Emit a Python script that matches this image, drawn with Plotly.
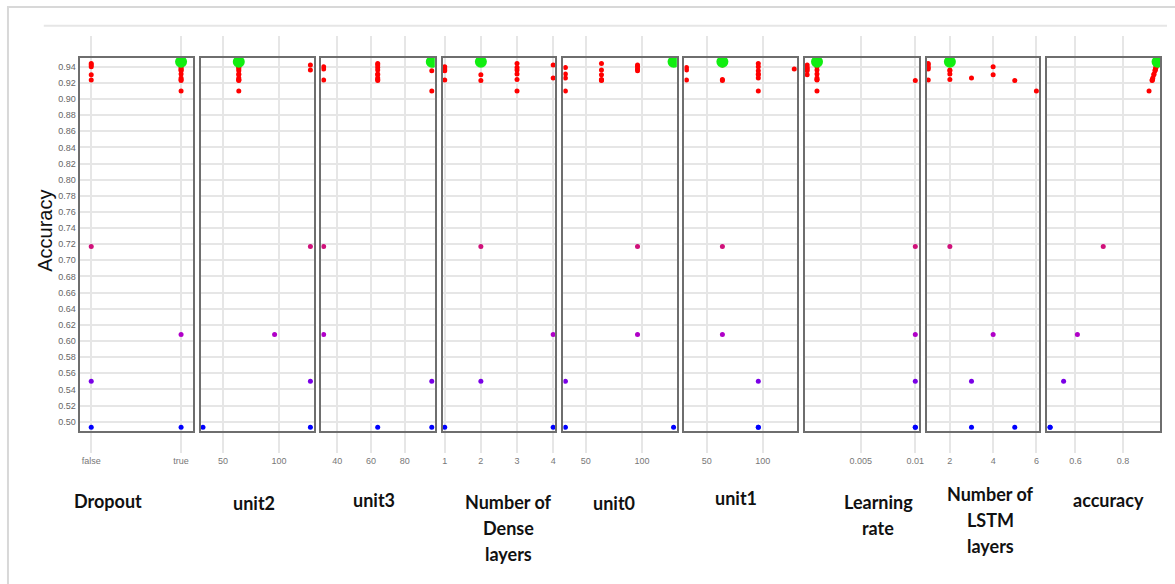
import plotly.graph_objects as go

W, H = 1175, 584

# ---------------- data (one entry per tuning trial) ----------------
accuracy = [0.946, 0.944, 0.942, 0.940, 0.939, 0.937, 0.936, 0.935, 0.931, 0.930,
            0.926, 0.924, 0.9235, 0.923, 0.910, 0.717, 0.608, 0.550, 0.493, 0.493]
dropout = ["true", "false", "false", "false", "true", "true", "true", "true", "true", "false",
           "true", "true", "false", "true", "true", "false", "true", "false", "false", "true"]
unit2 = [64, 64, 128, 64, 64, 64, 128, 64, 64, 64, 64, 64, 64, 64, 64, 128, 96, 128, 32, 128]
unit3 = [96, 64, 64, 32, 64, 32, 64, 96, 64, 64, 64, 64, 32, 64, 96, 32, 32, 96, 64, 96]
dense_layers = [2, 3, 4, 1, 3, 1, 3, 1, 3, 2, 4, 3, 1, 2, 3, 2, 4, 2, 1, 4]
unit0 = [128, 64, 96, 96, 32, 96, 64, 96, 32, 64, 32, 64, 64, 64, 32, 96, 96, 32, 32, 128]
unit1 = [64, 96, 64, 96, 32, 128, 32, 96, 96, 96, 96, 64, 32, 64, 96, 64, 64, 96, 96, 96]
learning_rate = [0.001, 0.001, 0.0001, 0.001, 0.0001, 0.0001, 0.001, 0.0001, 0.001, 0.0001,
                 0.001, 0.001, 0.001, 0.01, 0.001, 0.01, 0.01, 0.01, 0.01, 0.01]
lstm_layers = [2, 1, 1, 4, 1, 1, 2, 2, 2, 4, 3, 2, 1, 5, 6, 2, 4, 3, 3, 5]

panel_titles = [["Dropout"], ["unit2"], ["unit3"], ["Number of", "Dense", "layers"],
                ["unit0"], ["unit1"], ["Learning", "rate"], ["Number of", "LSTM", "layers"],
                ["accuracy"]]
y_ticks = [0.50, 0.52, 0.54, 0.56, 0.58, 0.60, 0.62, 0.64, 0.66, 0.68, 0.70, 0.72,
           0.74, 0.76, 0.78, 0.80, 0.82, 0.84, 0.86, 0.88, 0.90, 0.92, 0.94]
x_ticks = [["false", "true"], [50, 100], [40, 60, 80], [1, 2, 3, 4], [50, 100], [50, 100],
           [0.005, 0.01], [2, 4, 6], [0.6, 0.8]]
x_ticktext = [["false", "true"], ["50", "100"], ["40", "60", "80"], ["1", "2", "3", "4"],
              ["50", "100"], ["50", "100"], ["0.005", "0.01"], ["2", "4", "6"], ["0.6", "0.8"]]

params = [dropout, unit2, unit3, dense_layers, unit0, unit1, learning_rate, lstm_layers, accuracy]

# ---------------- layout geometry (inner edges of each framed panel, px) ----------------
dom_left = [79, 201, 322, 444, 565.3, 687, 808, 930.3, 1051.3]
dom_right = [193, 315, 436, 557.3, 679.3, 800.3, 922.7, 1043.7, 1165]
x_ranges = [[-0.1296, 1.1329], [30.22, 131.56], [30.65, 97.77], [0.945, 4.063], [30.23, 130.9],
            [30.23, 130.66], [-0.00011, 0.010337], [0.922, 6.138], [0.4797, 0.9564]]
dom_top, dom_bottom = 58, 431
y_range = [0.48847, 0.95078]

colorscale = [[0.0, "#0000ff"], [0.126, "#7a00e6"], [0.254, "#b000c8"],
              [0.494, "#d0107a"], [0.80, "#ff0000"], [1.0, "#ff0000"]]

best = max(accuracy)
fig = go.Figure()

for i, xs in enumerate(params):
    ax = "" if i == 0 else str(i + 1)
    ox = [x for x, a in zip(xs, accuracy) if a != best]
    oy = [a for a in accuracy if a != best]
    bx = [x for x, a in zip(xs, accuracy) if a == best]
    by = [a for a in accuracy if a == best]
    fig.add_trace(go.Scatter(
        x=ox, y=oy, mode="markers", xaxis="x" + ax, yaxis="y" + ax, showlegend=False,
        marker=dict(size=5, color=oy, colorscale=colorscale, cmin=min(accuracy), cmax=best,
                    line=dict(width=0)),
        hoverinfo="x+y"))
    fig.add_trace(go.Scatter(
        x=bx, y=by, mode="markers", xaxis="x" + ax, yaxis="y" + ax, showlegend=False,
        marker=dict(size=12, color="#11ee11", line=dict(width=0)), hoverinfo="x+y"))

    xa = dict(
        domain=[dom_left[i] / W, dom_right[i] / W], anchor="y" + ax, range=x_ranges[i],
        showgrid=True, gridcolor="#e6e6e6", gridwidth=1.5, zeroline=False,
        showline=True, linecolor="#6e6e6e", linewidth=2, mirror="ticks",
        ticks="outside", ticklen=20, tickcolor="#e6e6e6", tickwidth=1.5,
        tickmode="array", tickvals=x_ticks[i], ticktext=x_ticktext[i],
        tickfont=dict(family="Liberation Sans, Arial", size=9, color="#777777"),
        fixedrange=True)
    if i == 0:
        xa.update(type="category", categoryorder="array", categoryarray=["false", "true"])
    ya = dict(
        domain=[1 - dom_bottom / H, 1 - dom_top / H], anchor="x" + ax, range=y_range,
        showgrid=True, gridcolor="#e6e6e6", gridwidth=1.5, zeroline=False,
        showline=True, linecolor="#6e6e6e", linewidth=2, mirror=True, ticks="",
        tickmode="array", tickvals=y_ticks, tickformat=".2f",
        showticklabels=(i == 0),
        tickfont=dict(family="Liberation Sans, Arial", size=9, color="#666666"),
        fixedrange=True)
    fig.layout["xaxis" + ax] = xa
    fig.layout["yaxis" + ax] = ya

# panel titles below the chart
title_base_y = [501, 503, 500, 502, 503, 498, 502, 494, 500]
title_cx = [108, 254, 375, 510, 616, 739, 882, 995, 1113]
for lines, cx, by0 in zip(panel_titles, title_cx, title_base_y):
    for k, line in enumerate(lines):
        fig.add_annotation(
            x=cx / W, y=1 - (by0 + 26 * k) / H, xref="paper", yref="paper",
            text="<b>" + line + "</b>", showarrow=False, xanchor="center", yanchor="middle",
            font=dict(family="Lato, Open Sans, sans-serif", size=18, color="#111111"))

fig.add_annotation(
    x=44 / W, y=1 - 231 / H, xref="paper", yref="paper", text="Accuracy", textangle=-90,
    showarrow=False, xanchor="center", yanchor="middle",
    font=dict(family="Liberation Sans, Arial", size=20, color="#111111"))

# page frame decorations
fig.add_shape(type="rect", xref="paper", yref="paper", x0=7 / W, x1=1.02, y0=-0.02, y1=1 - 7 / H,
              line=dict(color="#d8d8d8", width=2), fillcolor="rgba(0,0,0,0)", layer="below")
fig.add_shape(type="line", xref="paper", yref="paper", x0=43 / W, x1=1172 / W,
              y0=1 - 25.7 / H, y1=1 - 25.7 / H, line=dict(color="#e6e6e6", width=2), layer="below")

fig.update_layout(
    width=W, height=H, margin=dict(l=0, r=0, t=0, b=0),
    paper_bgcolor="white", plot_bgcolor="white", showlegend=False)

fig.write_html("out.html")
